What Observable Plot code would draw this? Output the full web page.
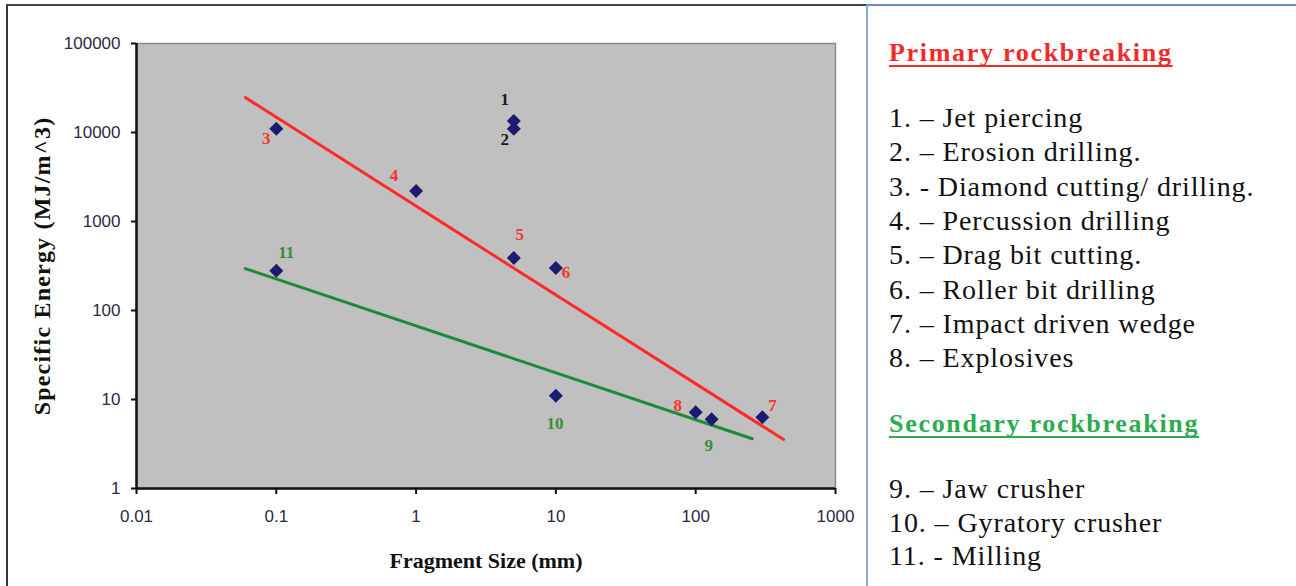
<!DOCTYPE html>
<html>
<head>
<meta charset="utf-8">
<script src="https://cdn.jsdelivr.net/npm/d3@7"></script>
<script src="https://cdn.jsdelivr.net/npm/@observablehq/plot@0.6"></script>
<style>
  html, body { margin: 0; padding: 0; background: #fff; }
  #wrap { position: relative; width: 1296px; height: 586px; overflow: hidden; }
  #chart { position: absolute; left: 0; top: 0; }
  #frame { position: absolute; left: 6px; top: 4px; width: 862px; height: 640px;
           border-top: 2px solid #444; border-left: 2px solid #333; box-sizing: border-box; }
  #panel { position: absolute; left: 866px; top: 4px; width: 440px; height: 640px;
           border-top: 2px solid #6a8cc8; border-left: 2px solid #8ea8d8; box-sizing: border-box; }
  .line { position: absolute; left: 889px; white-space: nowrap; font-family: "Liberation Serif", serif;
          color: #111; font-size: 28px; line-height: 34px; letter-spacing: 0.9px; }
  .head { font-weight: bold; font-size: 26px; text-decoration: underline; text-underline-offset: 4px;
          text-decoration-thickness: 2px; text-decoration-skip-ink: none; letter-spacing: 1.7px; }
</style>
</head>
<body>
<div id="wrap">
  <div id="frame"></div>
  <div id="panel"></div>
  <div id="chart"></div>
  <div id="legend"></div>
</div>
<script>
// ---- data ----
const pointIds   = ["1", "2", "3", "4", "5", "6", "7", "8", "9", "10", "11"];
const fragSizes  = [5, 5, 0.1, 1, 5, 10, 300, 100, 130, 10, 0.1];          // mm
const energies   = [13500, 11000, 11000, 2200, 390, 300, 6.3, 7.2, 6, 11, 280]; // MJ/m^3
const groups     = ["none", "none", "primary", "primary", "primary", "primary", "primary", "primary", "secondary", "secondary", "secondary"];

const primaryTrendX   = [0.06, 425];
const primaryTrendY   = [24700, 3.55];
const secondaryTrendX = [0.06, 254];
const secondaryTrendY = [296, 3.62];

const xTicks = [0.01, 0.1, 1, 10, 100, 1000];
const xTickLabels = ["0.01", "0.1", "1", "10", "100", "1000"];
const yTicks = [1, 10, 100, 1000, 10000, 100000];
const yTickLabels = ["1", "10", "100", "1000", "10000", "100000"];

const xTitle = "Fragment Size (mm)";
const yTitle = "Specific Energy (MJ/m^3)";

const primaryHeading = "Primary rockbreaking";
const primaryItems = [
  "1. – Jet piercing",
  "2. – Erosion drilling.",
  "3. - Diamond cutting/ drilling.",
  "4. – Percussion drilling",
  "5. – Drag bit cutting.",
  "6. – Roller bit drilling",
  "7. – Impact driven wedge",
  "8. – Explosives"
];
const secondaryHeading = "Secondary rockbreaking";
const secondaryItems = [
  "9. – Jaw crusher",
  "10. – Gyratory crusher",
  "11. - Milling"
];

// ---- styling (label offsets in px relative to each point) ----
const labelOffsets = {
  "1": [-9, -21], "2": [-9, 11], "3": [-10, 10], "4": [-22, -15], "5": [6, -23],
  "6": [10, 5], "7": [10, -12], "8": [-18, -7], "9": [-3, 26], "10": [-1, 28], "11": [10, -18]
};
const groupColors = { none: "#1a1a1a", primary: "#ff3030", secondary: "#3c8c3c" };

const points = pointIds.map((id, i) => ({ id, x: fragSizes[i], y: energies[i], group: groups[i] }));
const redLine = primaryTrendX.map((x, i) => ({ x, y: primaryTrendY[i] }));
const greenLine = secondaryTrendX.map((x, i) => ({ x, y: secondaryTrendY[i] }));

const labelMarks = points.map(p => Plot.text([p], {
  x: "x", y: "y", text: "id",
  dx: labelOffsets[p.id][0], dy: labelOffsets[p.id][1],
  fill: groupColors[p.group], fontFamily: "Liberation Serif", fontWeight: "bold", fontSize: 17
}));

const chart = Plot.plot({
  width: 866,
  height: 586,
  marginLeft: 136, marginRight: 31, marginTop: 43, marginBottom: 98,
  style: { background: "transparent", fontFamily: "Liberation Sans", overflow: "visible" },
  x: { type: "log", domain: [0.01, 1000] },
  y: { type: "log", domain: [1, 100000] },
  marks: [
    Plot.frame({ fill: "#c0c0c0", stroke: "#8a8a8a", strokeWidth: 1.5 }),
    Plot.line(redLine, { x: "x", y: "y", stroke: "#ff2a2a", strokeWidth: 3 }),
    Plot.line(greenLine, { x: "x", y: "y", stroke: "#1f8a35", strokeWidth: 3 }),
    Plot.dot(points, { x: "x", y: "y", symbol: "diamond2", r: 6.3, fill: "#1c1c6e", stroke: "none" }),
    ...labelMarks,
    Plot.ruleX([0.01], { stroke: "#111", strokeWidth: 2.5 }),
    Plot.ruleY([1], { stroke: "#111", strokeWidth: 2.5 }),
    Plot.axisX({ ticks: xTicks, tickFormat: d => xTickLabels[xTicks.indexOf(d)], tickSize: 6, tickPadding: 15,
      fontSize: 17, fill: "#2a2a48", stroke: "#111", strokeWidth: 2, label: null }),
    Plot.axisY({ ticks: yTicks, tickFormat: d => yTickLabels[yTicks.indexOf(d)], tickSize: 5, tickPadding: 11,
      fontSize: 17, fill: "#2a2a48", stroke: "#111", strokeWidth: 2, label: null }),
    Plot.text([xTitle], { frameAnchor: "bottom", dy: 72, lineAnchor: "middle", textAnchor: "middle",
      fontFamily: "Liberation Serif", fontWeight: "bold", fontSize: 22, fill: "#111" }),
    Plot.text([yTitle], { frameAnchor: "left", dx: -94, rotate: -90, lineAnchor: "middle", textAnchor: "middle",
      fontFamily: "Liberation Serif", fontWeight: "bold", fontSize: 24, fill: "#111" })
  ]
});
d3.select(chart).selectAll("text")
  .filter(function () { return this.textContent === yTitle; })
  .style("letter-spacing", "1.2px");
document.getElementById("chart").appendChild(chart);

// ---- legend panel (HTML text) ----
const legend = document.getElementById("legend");
function addLine(text, top, cls, color) {
  const d = document.createElement("div");
  d.className = "line" + (cls ? " " + cls : "");
  d.style.top = top + "px";
  if (color) d.style.color = color;
  d.textContent = text;
  legend.appendChild(d);
}
addLine(primaryHeading, 36, "head", "#f02a2a");
primaryItems.forEach((t, i) => addLine(t, 101 + i * 34.3, "", null));
addLine(secondaryHeading, 407, "head", "#2eaa50");
secondaryItems.forEach((t, i) => addLine(t, 472 + i * 33.5, "", null));
</script>
</body>
</html>
